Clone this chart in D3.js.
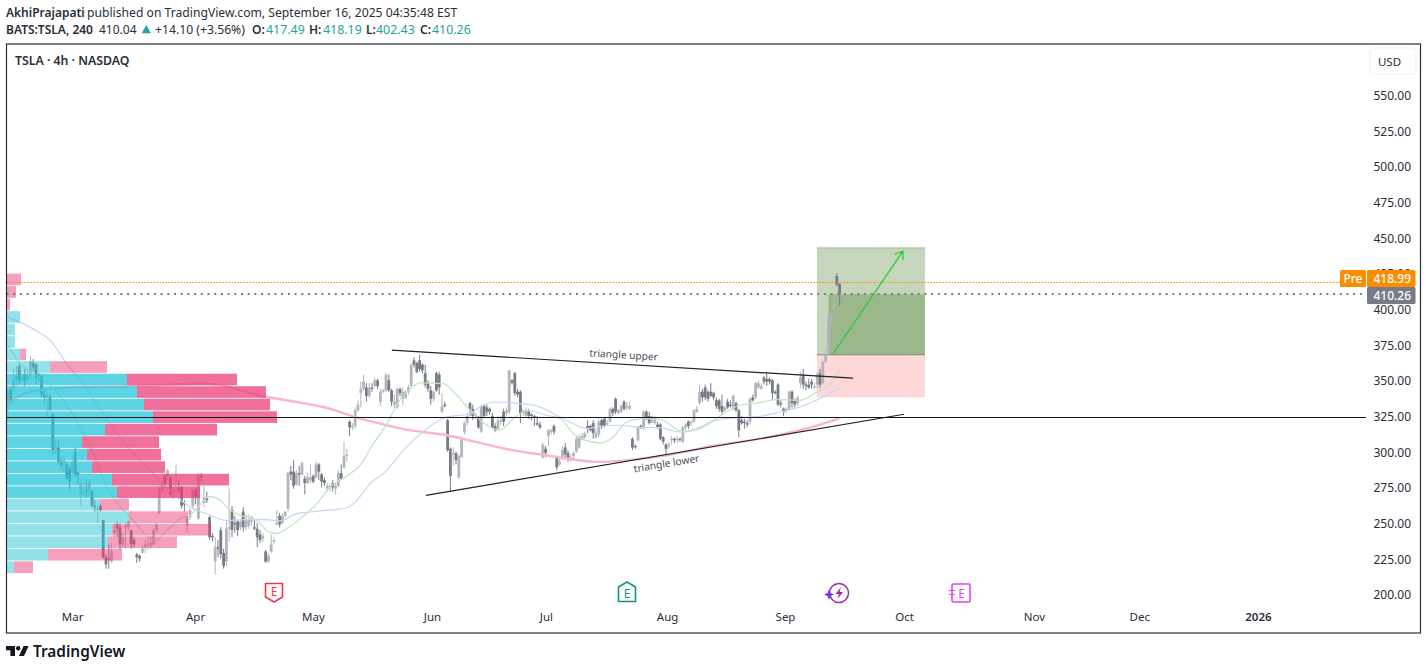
<!DOCTYPE html>
<html lang="en">
<head>
<title>TSLA 4h</title>
<meta charset="UTF-8" />
<script src="https://cdn.jsdelivr.net/npm/d3@7"></script>
<style>
  html, body { margin: 0; padding: 0; background: #fff; overflow: hidden; }
  svg { display: block; }
  text { font-family: "Noto Sans", sans-serif; }
</style>
</head>
<body>
<script>
// candles: open, high, low, close
var candleRows = [
[336,345,327,342],[344,346,333,336],[344,358,342,350],[350,360,346,353],[360,362,347,350],[350,355,348,352],[354,358,346,350],[350,357,349,354],
[354,367,351,363],[362,365,356,359],[361,362,347,352],[354,355,349,353],[353,354,338,340],[340,344,334,338],[338,342,324,339],[338,341,329,329],
[326,327,298,301],[301,309,298,303],[303,308,291,293],[293,296,287,290],[291,297,285,294],[291,293,281,281],[288,290,273,279],[285,297,284,293],
[300,303,282,284],[285,286,277,284],[270,281,262,277],[270,279,268,271],[273,281,268,272],[272,281,269,279],[272,273,261,262],[262,266,258,261],
[259,265,250,260],[262,263,258,259],[252,252,225,226],[226,228,218,221],[225,235,218,224],[223,236,222,230],[243,250,240,245],[249,251,240,246],
[247,250,231,235],[235,243,233,240],[247,251,232,248],[247,252,245,251],[245,245,232,235],[238,240,233,235],[228,229,222,226],[227,228,223,225],
[229,234,229,232],[233,238,229,235],[234,240,231,235],[234,241,232,236],[235,246,234,245],[245,250,243,249],[257,276,256,274],[273,280,271,278],
[283,284,274,277],[283,288,280,287],[282,283,269,270],[272,275,267,271],[273,291,270,274],[274,280,270,273],[275,276,260,262],[264,266,258,263],
[248,255,243,254],[254,260,252,259],[262,274,260,273],[273,275,263,268],[253,285,252,283],[283,285,279,282],[264,276,261,268],[268,272,264,266],
[254,255,238,240],[241,243,237,240],[223,240,214,233],[233,238,226,232],[245,247,225,228],[229,232,218,220],[223,252,220,246],[246,274,237,247],
[259,262,240,245],[250,255,243,249],[251,252,241,245],[247,253,245,251],[258,261,244,247],[247,256,245,252],[248,256,246,252],[251,255,248,254],
[247,253,245,246],[246,250,233,240],[242,245,236,238],[239,243,237,241],[230,231,222,223],[223,229,222,227],[230,242,229,235],[237,240,235,238],
[249,259,248,250],[255,257,247,249],[250,257,249,255],[255,258,254,258],[260,286,258,285],[286,290,280,284],[286,294,274,276],[277,287,276,285],
[285,290,276,284],[284,293,283,292],[281,283,270,278],[278,285,277,282],[280,291,278,282],[283,284,278,279],[282,293,281,291],[291,292,280,286],
[284,285,275,279],[280,282,276,278],[274,278,272,276],[275,277,272,276],[278,280,272,275],[274,278,270,276],[276,287,275,285],[285,291,280,281],
[289,307,288,297],[297,302,293,298],[321,322,311,317],[317,320,315,318],[318,331,316,329],[329,336,328,333],[341,349,331,344],[344,354,343,349],
[345,348,335,339],[339,348,338,345],[345,348,342,344],[346,352,345,350],[350,351,344,346],[335,344,332,342],[342,344,341,343],[343,355,342,354],
[350,354,342,343],[343,344,332,335],[333,340,330,335],[331,345,330,344],[344,345,339,341],[337,345,333,342],[338,343,337,342],[342,347,340,345],
[346,362,346,361],[364,366,359,361],[362,363,355,356],[364,368,356,358],[361,362,355,357],[355,361,345,347],[348,350,342,344],[343,346,333,337],
[337,343,335,342],[355,356,342,343],[354,356,340,345],[328,341,327,332],[333,335,331,332],[322,323,300,301],[302,303,272,283],[298,303,290,299],
[299,300,291,294],[282,298,281,297],[296,310,296,309],[314,321,312,320],[320,327,318,325],[334,335,325,330],[330,333,322,325],[325,327,323,326],
[324,325,316,317],[314,333,313,332],[332,333,324,325],[331,333,325,328],[330,331,326,328],[325,327,316,317],[318,320,314,315],[316,325,315,322],
[321,325,319,322],[328,330,318,321],[327,331,325,329],[328,357,326,357],[350,351,347,348],[355,356,339,341],[342,344,338,340],[342,343,320,327],
[327,330,325,328],[325,331,324,329],[328,330,323,325],[326,327,322,325],[325,326,318,324],[320,325,318,319],[319,321,316,317],[296,306,295,305],
[302,304,296,299],[311,316,304,315],[314,316,312,315],[318,319,312,314],[296,297,287,289],[291,295,290,293],[296,304,294,301],[303,306,296,298],
[299,301,293,294],[294,298,293,296],[297,300,295,299],[300,311,299,309],[303,312,302,310],[309,313,308,311],[310,314,309,313],[318,322,313,316],
[318,319,314,315],[320,322,309,313],[310,316,309,313],[312,323,310,321],[322,323,316,318],[323,324,317,318],[320,322,318,320],[321,331,320,330],
[330,331,325,327],[337,338,326,328],[327,330,326,329],[328,333,327,332],[335,336,329,330],[331,335,329,332],[330,335,329,332],[309,310,301,303],
[304,305,302,303],[308,318,307,317],[318,319,316,317],[317,329,315,328],[328,329,322,323],[325,328,319,320],[324,325,320,323],[320,325,319,323],
[319,321,316,317],[319,320,308,309],[310,311,305,307],[305,306,298,302],[304,307,302,305],[308,311,305,309],[309,310,306,308],[308,311,306,309],
[309,310,307,308],[307,318,306,317],[317,320,315,319],[321,322,316,318],[320,322,318,321],[321,330,320,329],[328,332,327,330],[334,347,333,342],
[342,344,335,338],[345,347,336,338],[342,343,335,337],[342,348,338,339],[341,342,336,338],[336,338,330,332],[336,337,328,330],[332,340,326,328],
[329,332,328,331],[335,337,330,331],[333,336,331,332],[330,340,329,339],[334,335,328,329],[329,330,310,315],[322,325,319,320],[321,323,316,320],
[320,322,317,319],[321,338,319,337],[338,340,335,336],[338,349,337,348],[345,350,344,348],[344,348,343,346],[352,353,347,349],[351,355,346,349],
[351,352,347,349],[350,351,336,341],[342,343,340,341],[347,348,332,333],[334,336,331,333],[330,331,325,328],[329,331,327,330],[330,343,329,342],
[342,343,331,334],[336,337,331,333],[334,339,332,338],[348,356,345,352],[354,358,344,347],[347,349,343,346],[347,351,344,345],[349,351,344,347],
[345,348,344,346],[347,356,344,354],[355,358,345,347],[348,364,347,363],[363,372,362,368],[370,398,369,393],[392,397,389,396],[401,406,399,403],
[423,425,416,417],[417.49,418.19,402.43,410.26]
];

// moving averages: bar number and price
var blueMaBars = [0,10.8,15,21,28.1,34,41.2,49.5,57.9,65,71,78,85,92.4,97,103,107.9,116.2,121,124.6,129.3,134,142.4,149.6,156.7,164.4,168.6,173.4,182.9,190,196,202,206.7,211.4,218.5,226.9,232.8,240,247,253,261.4,268.5,275.7,282.8,290,296.9];
var blueMaValues = [394.5,383.9,378.1,361.7,344.2,326.7,306.8,289.2,272.9,261.2,256.5,251.8,252.3,252.3,251.4,256.5,257.7,259.3,260.5,265.9,277.6,284.6,303.3,316.1,324.3,326.2,331.3,334.8,333.7,331.3,325.5,319.6,316.1,317.8,318.5,316.8,316.8,313.8,316.1,322,323.9,324.8,327.8,331.3,337.2,344.7];
var greenMaBars = [0,4.3,9,13.8,19.8,25.7,30.5,35.2,38.8,44.8,49.5,52.5,56.7,61.4,65,67.4,72.1,75.7,79.3,82.9,88.8,92.4,96,99.5,104.3,110.3,115,121,125.7,130.5,135.3,138.8,143.6,147.2,155.5,160.3,165.6,171,175.7,180.5,185.3,192.4,197.2,202,205.5,211.4,216.2,220.9,226.9,232.8,241.2,245.9,253,260.2,267.4,274.5,282.8,290,293.5,296.9];
var greenMaValues = [374.6,361.7,354.7,348.9,336,317.3,298.6,275.2,264.7,251.8,241.3,237.8,244.8,253,255.3,260,268.7,265.9,258.9,255.3,251.8,244.8,242.5,246,253,263.5,275.2,282.7,290.4,305.6,319.6,332.5,344.2,348.2,347.7,339.5,327.8,318.5,315,323.2,329,325.5,323.2,312.6,308.4,306.1,310.3,320.8,323.2,322.7,313.8,316.1,323.2,331.8,334.1,336.5,336,343,346.5,357];
var pinkMaBars = [0,7.9,21,44.8,71,92.4,104.3,112.6,125.7,130.5,142.4,156.7,169.8,180.5,192.4,211.4,223.3,235.2,253,270.9,282.8,296.9];
var pinkMaValues = [334.8,341.8,344.9,345.8,347.7,338.3,334.4,331.3,323.2,320.8,315.4,311.5,305.6,300.9,297.4,292.8,294.4,297.4,304.5,309.8,315,323.2];

// volume profile rows, top row first
var profileUp = [0,0,0,13,8,8,13,43,120,130,137,146,98,75,80,85,105,110,93,122,105,101,41,7];
var profileDown = [14,9,3,0,0,0,6,57,110,129,126,124,112,77,74,73,117,83,29,59,99,69,74,19];
var profileStrongRows = [8,9,10,11,12,13,14,15,16,17];
var profileTopPrice = 424.8;
var profileBottomPrice = 214.9;

var priceTicks = [200,225,250,275,300,325,350,375,400,425,450,475,500,525,550];
var monthLabels = ["Mar","Apr","May","Jun","Jul","Aug","Sep","Oct","Nov","Dec","2026"];
var monthBars = [22.9,66.8,108.9,151.4,192.1,235.4,277.5,320,366.4,404,446.4];

var lastPrice = 410.26;
var prePrice = 418.99;
var levelPrice = 324.1;
var targetPrice = 442.8;
var entryPrice = 367.9;
var stopPrice = 338;

var W = 1427, H = 670;
var plot = { left: 6.5, right: 1420.5, top: 44, bottom: 633, priceEdge: 1366 };

var x = d3.scaleLinear().domain([0, 296]).range([8, 836.8]);
var y = d3.scaleLinear().domain([200, 550]).range([594.3, 95]);
var volX = d3.scaleLinear().domain([0, 270]).range([7, 277]);

var svg = d3.select("body").append("svg").attr("width", W).attr("height", H);

svg.append("rect").attr("width", W).attr("height", H).attr("fill", "#fff");

// header
var ink = "#2a2e39", teal = "#26a69a";
var head1 = svg.append("text").attr("x", 6).attr("y", 17).attr("font-size", 12).attr("fill", ink);
head1.append("tspan").attr("font-weight", 600).text("AkhiPrajapati");
head1.append("tspan").attr("x", 87).attr("font-size", 12.16).text("published on TradingView.com, September 16, 2025 04:35:48 EST");

var head2 = svg.append("text").attr("y", 34).attr("font-size", 12).attr("fill", ink);
head2.append("tspan").attr("x", 6).attr("font-weight", 600).text("BATS:TSLA, 240");
head2.append("tspan").attr("x", 99).text("410.04");
head2.append("tspan").attr("x", 155).attr("font-size", 12.2).text("+14.10 (+3.56%)");
[["O:", "417.49", 252, 266], ["H:", "418.19", 309, 323], ["L:", "402.43", 366, 376], ["C:", "410.26", 420, 432]].forEach(function(d) {
  head2.append("tspan").attr("x", d[2]).attr("font-weight", 600).text(d[0]);
  head2.append("tspan").attr("x", d[3]).attr("fill", teal).attr("font-size", 12.4).text(d[1]);
});
svg.append("path").attr("d", "M146.3,25L151,33.3H141.6Z").attr("fill", teal);

svg.append("defs").append("clipPath").attr("id", "pane").append("rect")
  .attr("x", plot.left).attr("y", plot.top)
  .attr("width", plot.priceEdge - plot.left).attr("height", plot.bottom - plot.top);

var pane = svg.append("g").attr("clip-path", "url(#pane)");

// long position tool
var zoneLeft = 288.9, zoneRight = 327.5, zoneInner = 293;
pane.append("rect").attr("x", x(zoneLeft)).attr("width", x(zoneRight) - x(zoneLeft))
  .attr("y", y(targetPrice)).attr("height", y(entryPrice) - y(targetPrice)).attr("fill", "#c5d6bc");
pane.append("rect").attr("x", x(zoneLeft)).attr("width", x(zoneRight) - x(zoneLeft))
  .attr("y", y(entryPrice)).attr("height", y(stopPrice) - y(entryPrice)).attr("fill", "#fed8d6");
pane.append("rect").attr("x", x(zoneInner)).attr("width", x(zoneRight) - x(zoneInner))
  .attr("y", y(lastPrice)).attr("height", y(entryPrice) - y(lastPrice)).attr("fill", "#9bb88c");
pane.append("line").attr("x1", x(zoneLeft)).attr("x2", x(zoneRight))
  .attr("y1", y(targetPrice)).attr("y2", y(targetPrice)).attr("stroke", "#9dba90");
pane.append("line").attr("x1", x(zoneLeft)).attr("x2", x(zoneRight))
  .attr("y1", y(entryPrice)).attr("y2", y(entryPrice)).attr("stroke", "#7d8a80");

// candles
var upColor = "#b2b5be", downColor = "#787b86";
var candle = pane.append("g").selectAll("g").data(candleRows).enter().append("g")
  .attr("fill", function(d) { return d[3] >= d[0] ? upColor : downColor; });
candle.append("rect")
  .attr("x", function(d, i) { return x(i) - 0.5; })
  .attr("width", 1)
  .attr("y", function(d) { return y(d[1]); })
  .attr("height", function(d) { return y(d[2]) - y(d[1]); });
candle.append("rect")
  .attr("x", function(d, i) { return x(i) - 1.4; })
  .attr("width", 2.8)
  .attr("y", function(d) { return y(Math.max(d[0], d[3])); })
  .attr("height", function(d) { return Math.max(1.2, Math.abs(y(d[0]) - y(d[3]))); });

// moving averages
function drawMa(bars, values, color, width) {
  var line = d3.line()
    .x(function(d) { return x(d); })
    .y(function(d, i) { return y(values[i]); })
    .curve(d3.curveMonotoneX);
  pane.append("path").attr("d", line(bars)).attr("fill", "none")
    .attr("stroke", color).attr("stroke-width", width);
}
drawMa(pinkMaBars, pinkMaValues, "#fab4cc", 2.4);
drawMa(blueMaBars, blueMaValues, "#c6d4fb", 1.2);
drawMa(greenMaBars, greenMaValues, "#c3e3c3", 1.2);

// volume profile
var rowBand = d3.scaleBand().domain(d3.range(profileUp.length))
  .range([y(profileTopPrice), y(profileBottomPrice)]).paddingInner(0.07);
var rows = pane.append("g").selectAll("g").data(profileUp).enter().append("g")
  .attr("transform", function(d, i) { return "translate(0," + rowBand(i) + ")"; });
rows.append("rect")
  .attr("x", volX(0))
  .attr("width", function(d) { return volX(d) - volX(0); })
  .attr("height", rowBand.bandwidth())
  .attr("fill", "#26c6da")
  .attr("fill-opacity", function(d, i) { return profileStrongRows.indexOf(i) >= 0 ? 0.75 : 0.5; });
rows.append("rect")
  .attr("x", function(d) { return volX(d); })
  .attr("width", function(d, i) { return volX(profileDown[i]) - volX(0); })
  .attr("height", rowBand.bandwidth())
  .attr("fill", "#ec407a")
  .attr("fill-opacity", function(d, i) { return profileStrongRows.indexOf(i) >= 0 ? 0.75 : 0.5; });

// trend lines and horizontal level
var upperBars = [137.1, 301.8], upperPrices = [371.1, 351.5];
var lowerBars = [149.3, 320], lowerPrices = [269.4, 326.2];
pane.append("line").attr("x1", x(upperBars[0])).attr("y1", y(upperPrices[0]))
  .attr("x2", x(upperBars[1])).attr("y2", y(upperPrices[1]))
  .attr("stroke", "#1f2128").attr("stroke-width", 1.2);
pane.append("line").attr("x1", x(lowerBars[0])).attr("y1", y(lowerPrices[0]))
  .attr("x2", x(lowerBars[1])).attr("y2", y(lowerPrices[1]))
  .attr("stroke", "#1f2128").attr("stroke-width", 1.2);
pane.append("line").attr("x1", plot.left).attr("x2", plot.priceEdge)
  .attr("y1", Math.round(y(levelPrice)) + 0.5).attr("y2", Math.round(y(levelPrice)) + 0.5)
  .attr("stroke", "#131722").attr("stroke-width", 1.1);

pane.append("text").attr("font-size", 10.2).attr("fill", "#4a4c57").attr("text-anchor", "middle")
  .attr("transform", "translate(623.5,358.5) rotate(3.4)").text("triangle upper");
pane.append("text").attr("font-size", 10.2).attr("fill", "#4a4c57").attr("text-anchor", "middle")
  .attr("transform", "translate(667,467) rotate(-9.6)").text("triangle lower");

// arrow
var arrowBars = [294.6, 319.6], arrowPrices = [368.3, 440.5];
var ax1 = x(arrowBars[0]), ay1 = y(arrowPrices[0]), ax2 = x(arrowBars[1]), ay2 = y(arrowPrices[1]);
var ang = Math.atan2(ay2 - ay1, ax2 - ax1);
pane.append("path")
  .attr("d", "M" + ax1 + "," + ay1 + "L" + ax2 + "," + ay2 +
    "M" + (ax2 - 9 * Math.cos(ang - 0.6)) + "," + (ay2 - 9 * Math.sin(ang - 0.6)) +
    "L" + ax2 + "," + ay2 +
    "L" + (ax2 - 9 * Math.cos(ang + 0.6)) + "," + (ay2 - 9 * Math.sin(ang + 0.6)))
  .attr("fill", "none").attr("stroke", "#2ecb35").attr("stroke-width", 1.3);

// price lines, snapped to whole pixels so the dots stay solid
svg.append("line").attr("x1", plot.left).attr("x2", 1340)
  .attr("y1", Math.round(y(prePrice)) + 0.5).attr("y2", Math.round(y(prePrice)) + 0.5)
  .attr("stroke", "#fb8c00").attr("stroke-width", 1).attr("stroke-dasharray", "1.5 1.5");
svg.append("line").attr("x1", plot.left).attr("x2", plot.priceEdge)
  .attr("y1", Math.round(y(lastPrice))).attr("y2", Math.round(y(lastPrice)) )
  .attr("stroke", "#787b86").attr("stroke-width", 2).attr("stroke-dasharray", "2 4.7");

// price axis
var yAxis = d3.axisRight(y).tickValues(priceTicks).tickSize(0).tickPadding(0)
  .tickFormat(function(d) { return d3.format(".2f")(d); });
var yg = svg.append("g").attr("transform", "translate(1411,0.6)").call(yAxis);
yg.select(".domain").remove();
yg.selectAll("text").attr("text-anchor", "end").attr("font-size", 12)
  .attr("font-family", '"Noto Sans", sans-serif').attr("fill", ink);

// time axis
var xAxis = d3.axisBottom(x).tickValues(monthBars).tickSize(0).tickPadding(0)
  .tickFormat(function(d, i) { return monthLabels[i]; });
var xg = svg.append("g").attr("transform", "translate(0,612.5)").call(xAxis);
xg.select(".domain").remove();
xg.selectAll("text").attr("font-size", 11.5).attr("dy", "0.71em")
  .attr("font-family", '"Noto Sans", sans-serif').attr("fill", ink)
  .attr("font-weight", function(d, i) { return monthLabels[i] === "2026" ? 600 : 400; });

// frame
svg.append("rect").attr("x", plot.left).attr("y", plot.top)
  .attr("width", plot.right - plot.left).attr("height", plot.bottom - plot.top)
  .attr("fill", "none").attr("stroke", "#2a2e39").attr("stroke-width", 1.2);

svg.append("text").attr("x", 15).attr("y", 65).attr("font-size", 12.3).attr("font-weight", 600)
  .attr("fill", ink).text("TSLA · 4h · NASDAQ");

svg.append("rect").attr("x", 1370).attr("y", 48).attr("width", 46).attr("height", 26).attr("rx", 4)
  .attr("fill", "#fff").attr("stroke", "#eef0f5").attr("stroke-width", 1.2);
svg.append("text").attr("x", 1389.5).attr("y", 66).attr("font-size", 11.5).attr("text-anchor", "middle")
  .attr("fill", ink).text("USD");

// price labels
svg.append("rect").attr("x", 1340).attr("y", 270).attr("width", 26).attr("height", 17).attr("rx", 1.5).attr("fill", "#fb8c00");
svg.append("rect").attr("x", 1367).attr("y", 270).attr("width", 48.5).attr("height", 17).attr("rx", 1.5).attr("fill", "#fb8c00");
svg.append("rect").attr("x", 1367).attr("y", 287).attr("width", 48.5).attr("height", 17).attr("rx", 1.5).attr("fill", "#787b86");
svg.append("text").attr("x", 1353).attr("y", 283).attr("font-size", 12).attr("font-weight", 500)
  .attr("text-anchor", "middle").attr("fill", "#fff").text("Pre");
svg.append("text").attr("x", 1411).attr("y", 283).attr("font-size", 12).attr("font-weight", 500)
  .attr("text-anchor", "end").attr("fill", "#fff").text(prePrice.toFixed(2));
svg.append("text").attr("x", 1411).attr("y", 300).attr("font-size", 12).attr("font-weight", 500)
  .attr("text-anchor", "end").attr("fill", "#fff").text(lastPrice.toFixed(2));

// event icons under the candles
function eLetter(cx, cy, color) {
  svg.append("text").attr("x", cx).attr("y", cy + 4.5).attr("font-size", 12).attr("text-anchor", "middle")
    .attr("fill", color).text("E");
}
svg.append("path").attr("d", "M265.5,583.5H282.5V597L274,602L265.5,597Z")
  .attr("fill", "#fff").attr("stroke", "#f23645").attr("stroke-width", 1.6);
eLetter(274, 591.5, "#f23645");
svg.append("path").attr("d", "M618.5,587L627,582L635.5,587V601.5H618.5Z")
  .attr("fill", "#fff").attr("stroke", "#089981").attr("stroke-width", 1.6);
eLetter(627, 593, "#089981");
svg.append("circle").attr("cx", 839).attr("cy", 593).attr("r", 9.5)
  .attr("fill", "#fff").attr("stroke", "#9c27b0").attr("stroke-width", 1.5);
svg.append("path").attr("d", "M841,587L835.5,594H839L837.5,599L843,592H839.5Z").attr("fill", "#9c27b0");
svg.append("path").attr("d", "M829,589L830.5,593L834,594.5L830.5,596L829,600L827.5,596L824,594.5L827.5,593Z").attr("fill", "#6a3df5");
svg.append("rect").attr("x", 952).attr("y", 584).attr("width", 18).attr("height", 18).attr("rx", 1.5)
  .attr("fill", "#fff").attr("stroke", "#e040fb").attr("stroke-width", 1.6);
eLetter(961.5, 593, "#e040fb");
svg.append("path").attr("d", "M949,590.5h6M949,594.5h6").attr("stroke", "#e040fb").attr("stroke-width", 1.2);

// logo
svg.append("path").attr("d", "M6,646H15V656H10.4V650.2H6ZM23.6,646H28.6L24,656H19Z").attr("fill", "#131722");
svg.append("circle").attr("cx", 18.2).attr("cy", 648.2).attr("r", 2.2).attr("fill", "#131722");
svg.append("text").attr("x", 33).attr("y", 656.7).attr("font-size", 15.4).attr("font-weight", 600)
  .attr("font-family", "Inter, sans-serif").attr("fill", "#131722").text("TradingView");
</script>
</body>
</html>
